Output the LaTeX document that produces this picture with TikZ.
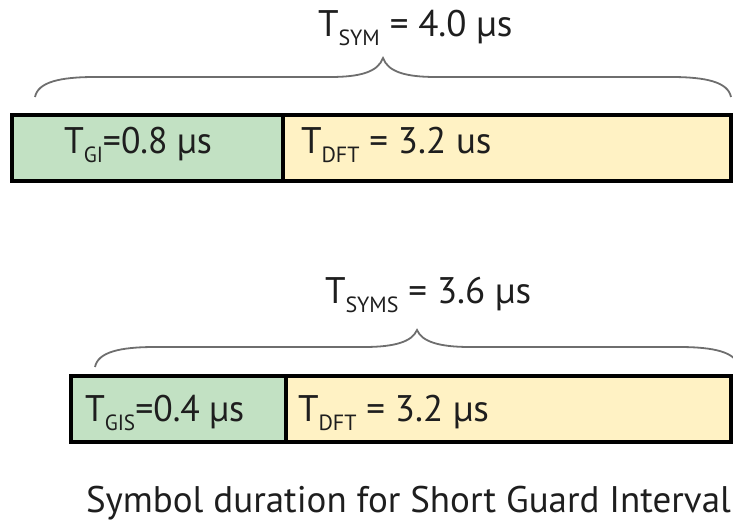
\documentclass[tikz,border=0pt]{standalone}
\usepackage{fontspec}
\setmainfont{PT Sans}
\newfontfamily\narrowfont{PT Sans}[FakeStretch=0.965]
\definecolor{gifill}{HTML}{C2E1C3}
\definecolor{dftfill}{HTML}{FFF2C4}
\definecolor{bracecol}{HTML}{6E6E6E}
\definecolor{txt}{HTML}{1E1E1E}
\newcommand{\subtxt}[1]{\raisebox{-0.25em}{\fontsize{22}{22}\selectfont #1}}
\tikzset{
  lbl/.style={inner sep=0pt, outer sep=0pt, text=txt, font=\fontsize{37}{42}\selectfont, anchor=base west},
  narrowlbl/.style={lbl, font=\fontsize{37}{42}\selectfont\narrowfont},
  framebox/.style={draw=black, line width=3.6pt},
  bracepath/.style={draw=bracecol, line width=1.8pt},
}
\begin{document}
\begin{tikzpicture}[x=1pt,y=-1pt]
\useasboundingbox (0,0) rectangle (733,523);
% top row
\fill[gifill] (12,115) rectangle (283,181);
\fill[dftfill] (283,115) rectangle (731,181);
\draw[framebox] (12,115) rectangle (731,181);
\draw[framebox] (283,115) -- (283,181);
\draw[bracepath] (35,97) .. controls (38,82) and (60,77) .. (95,77) -- (330,77)
  .. controls (360,77) and (378,72) .. (383,58)
  .. controls (388,72) and (406,77) .. (436,77) -- (671,77)
  .. controls (706,77) and (728,82) .. (731,97);
\node[lbl] (tsym) at (318,36) {T\subtxt{SYM} = 4.0 μs};
\node[narrowlbl] (tgi) at (64,153) {T\subtxt{GI}=0.8 μs};
\node[lbl] (tdft) at (301,153) {T\subtxt{DFT} = 3.2 us};
% bottom row
\fill[gifill] (71,376) rectangle (286,442);
\fill[dftfill] (286,376) rectangle (731,442);
\draw[framebox] (71,376) rectangle (731,442);
\draw[framebox] (286,376) -- (286,442);
\draw[bracepath] (95,367) .. controls (98,352) and (120,347) .. (155,347) -- (364,347)
  .. controls (394,347) and (412,342) .. (417,330)
  .. controls (422,342) and (440,347) .. (470,347) -- (679,347)
  .. controls (714,347) and (736,352) .. (739,367);
\node[lbl] (tsyms) at (325,303) {T\subtxt{SYMS} = 3.6 μs};
\node[narrowlbl] (tgis) at (85,421) {T\subtxt{GIS}=0.4 μs};
\node[lbl] (tdft2) at (298,421) {T\subtxt{DFT} = 3.2 μs};
\node[lbl] (caption) at (86,512) {Symbol duration for Short Guard Interval};
\end{tikzpicture}
\end{document}
